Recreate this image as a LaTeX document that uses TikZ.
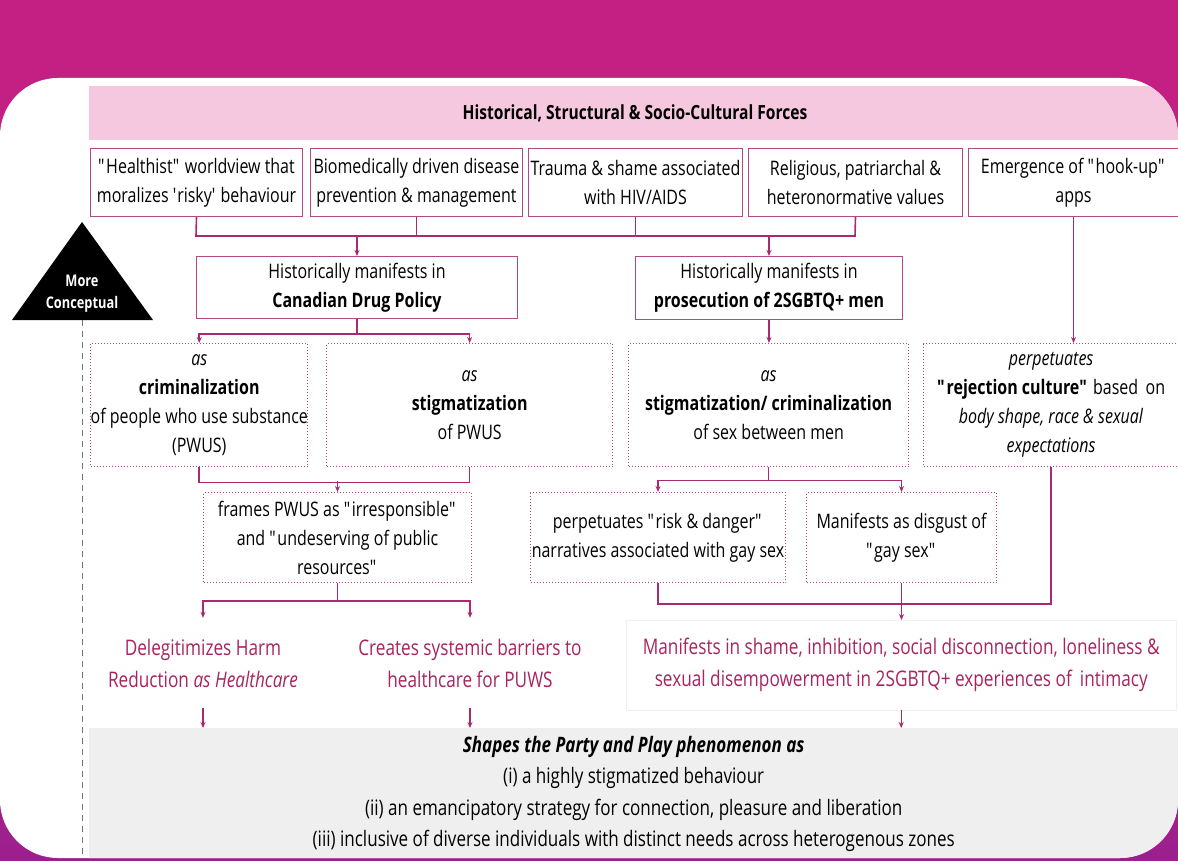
\documentclass[tikz,border=0pt]{standalone}
\usepackage{fontspec}
\setmainfont{Open Sans}[FakeStretch=0.8]
\usetikzlibrary{arrows.meta}
\newcommand\dq{\textquotedbl}
\definecolor{mag}{HTML}{C41F82}
\definecolor{purp}{HTML}{9C1F8E}
\definecolor{pinkband}{HTML}{F5C8DF}
\definecolor{edge}{HTML}{B04A85}
\definecolor{conn}{HTML}{A82A70}
\definecolor{outtext}{HTML}{A8245F}
\definecolor{graybg}{HTML}{EFEFEF}
\tikzset{
  box/.style={draw=edge, line width=1pt, fill=white, inner sep=0pt, align=center, anchor=north west},
  dbox/.style={box, dotted, line width=1.3pt},
  conn/.style={draw=conn, line width=1.6pt},
  arr/.style={conn, -{Stealth[length=6pt,width=5pt]}},
  outnode/.style={inner sep=0pt, align=center, text=outtext, font=\fontsize{21.5}{32}\selectfont},
}
\begin{document}
\begin{tikzpicture}[x=1pt,y=-1pt, font=\fontsize{20}{29}\selectfont]
\useasboundingbox (0,0) rectangle (1178,861);
\shade[top color=mag, bottom color=purp, middle color=mag] (0,0) rectangle (1178,861);
\fill[white, rounded corners=58] (0,78) rectangle (1178,858);
\begin{scope}
\clip[rounded corners=58] (0,78) rectangle (1178,858);
\fill[pinkband] (89,86) rectangle (1178,140);
\node[anchor=north west, fill=graybg, minimum width=1089pt, minimum height=132pt, inner sep=0pt, align=center, font=\fontsize{21.3}{31.5}\selectfont] (shapes) at (89,728)
 {\textbf{\textit{Shapes the Party and Play phenomenon as}}\\
  (i) a highly stigmatized behaviour\\
  (ii) an emancipatory strategy for connection, pleasure and liberation\\
  (iii) inclusive of diverse individuals with distinct needs across heterogenous zones};
\end{scope}
\node[font=\fontsize{19.5}{24}\selectfont\bfseries] (title) at (635,113) {Historical, Structural \& Socio-Cultural Forces};

% top row
\node[box, minimum width=212pt, minimum height=68pt] (b1) at (90,148) {\dq Healthist\dq{} worldview that\\ moralizes \textquotesingle risky\textquotesingle{} behaviour};
\node[box, minimum width=212pt, minimum height=68pt] (b2) at (310,148) {Biomedically driven disease\\ prevention \& management};
\node[box, minimum width=214pt, minimum height=68pt] (b3) at (528,148) {Trauma \& shame associated\\ with HIV/AIDS};
\node[box, minimum width=214pt, minimum height=68pt] (b4) at (748,148) {Religious, patriarchal \&\\ heteronormative values};
\node[box, minimum width=210pt, minimum height=68pt] (b5) at (968,148) {Emergence of \dq hook-up\dq\\ apps};

% second row
\node[box, minimum width=321pt, minimum height=62pt] (c1) at (196,256) {Historically manifests in\\ \textbf{Canadian Drug Policy}};
\node[box, minimum width=267pt, minimum height=63pt] (p1) at (635,256) {Historically manifests in\\ \textbf{prosecution of 2SGBTQ+ men}};

% dotted row
\node[dbox, minimum width=216pt, minimum height=123pt] (d1) at (90,343) {\textit{as}\\ \textbf{criminalization}\\ of people who use substance\\ (PWUS)};
\node[dbox, minimum width=286pt, minimum height=123pt] (d2) at (326,343) {\textit{as}\\ \textbf{stigmatization}\\ of PWUS};
\node[dbox, minimum width=280pt, minimum height=123pt] (d3) at (628,343) {\textit{as}\\ \textbf{stigmatization/ criminalization}\\ of sex between men};
\node[dbox, minimum width=255pt, minimum height=123pt] (d4) at (923,343) {\textit{perpetuates}\\ \textbf{\dq rejection culture\dq} based\, on\\ \textit{body shape, race \& sexual}\\ \textit{expectations}};

% third row
\node[dbox, line width=1pt, minimum width=268pt, minimum height=90pt] (f1) at (203,492) {frames PWUS as \dq irresponsible\dq\\ and \dq undeserving of public\\ resources\dq};
\node[dbox, line width=1pt, minimum width=255pt, minimum height=90pt] (r1) at (530,492) {perpetuates \dq risk \& danger\dq\\ narratives associated with gay sex};
\node[dbox, line width=1pt, minimum width=190pt, minimum height=90pt] (g1) at (806,492) {Manifests as disgust of\\ \dq gay sex\dq};

% outcomes
\node[outnode, minimum width=250pt, minimum height=90pt] (o1) at (203,663) {Delegitimizes Harm\\ Reduction \textit{as Healthcare}};
\node[outnode, minimum width=250pt, minimum height=90pt] (o2) at (470,663) {Creates systemic barriers to\\ healthcare for PUWS};
\node[outnode, draw=black!6, anchor=north west, minimum width=550pt, minimum height=90pt] (o3) at (626,620) {Manifests in shame, inhibition, social disconnection, loneliness \&\\ sexual disempowerment in 2SGBTQ+ experiences of\, intimacy};

% triangle
\coordinate (tritop) at (82,222);
\coordinate (trileft) at (12,320);
\coordinate (triright) at (153,320);
\coordinate (tribase) at (82,320);
\coordinate (dashend) at (82,858);
\fill[black] (tritop) -- (trileft) -- (triright) -- cycle;
\node[text=white, align=center, font=\fontsize{16}{22}\selectfont\bfseries] (tri) at (82,294) {More\\Conceptual};
\draw[black!55, line width=1pt, dash pattern=on 6pt off 5pt] (tribase) -- (dashend);

% connectors
\coordinate (busL) at (196,236);
\coordinate (busR) at (855,236);
\draw[conn] (b1.south) -- (busL) -- (busR) -- (b4.south);
\draw[conn] (b2.south) -- (b2.south |- busL);
\draw[conn] (b3.south) -- (b3.south |- busL);
\draw[arr] (c1.north |- busL) -- (c1.north);
\draw[arr] (p1.north |- busL) -- (p1.north);
\draw[arr] (c1.south) -- ++(0,15) -| (d1.north);
\draw[arr] (c1.south) -- ++(0,15) -| (d2.north);
\draw[arr] (p1.south) -- (p1.south |- d3.north);
\draw[arr] (b5.south) -- (b5.south |- d4.north);
\draw[conn] (d1.south) -- ++(0,15) -| (d2.south);
\draw[arr] (f1.north) ++(0,-11) -- (f1.north);
\draw[arr] (d3.south) -- ++(0,13) -| (r1.north);
\draw[arr] (d3.south) -- ++(0,13) -| (g1.north);
\draw[arr] (f1.south) -- ++(0,18) -| (o1.north);
\draw[arr] (f1.south) -- ++(0,18) -| (o2.north);
\draw[conn] (r1.south) -- ++(0,21) -| (d4.south);
\draw[arr] (g1.south) -- (g1.south |- o3.north);
\draw[arr, line width=1.2pt] (o1.south) -- (o1.south |- shapes.north);
\draw[arr, line width=1.2pt] (o2.south) -- (o2.south |- shapes.north);
\draw[arr, line width=1.2pt] (o3.south) -- (o3.south |- shapes.north);
\end{tikzpicture}
\end{document}
